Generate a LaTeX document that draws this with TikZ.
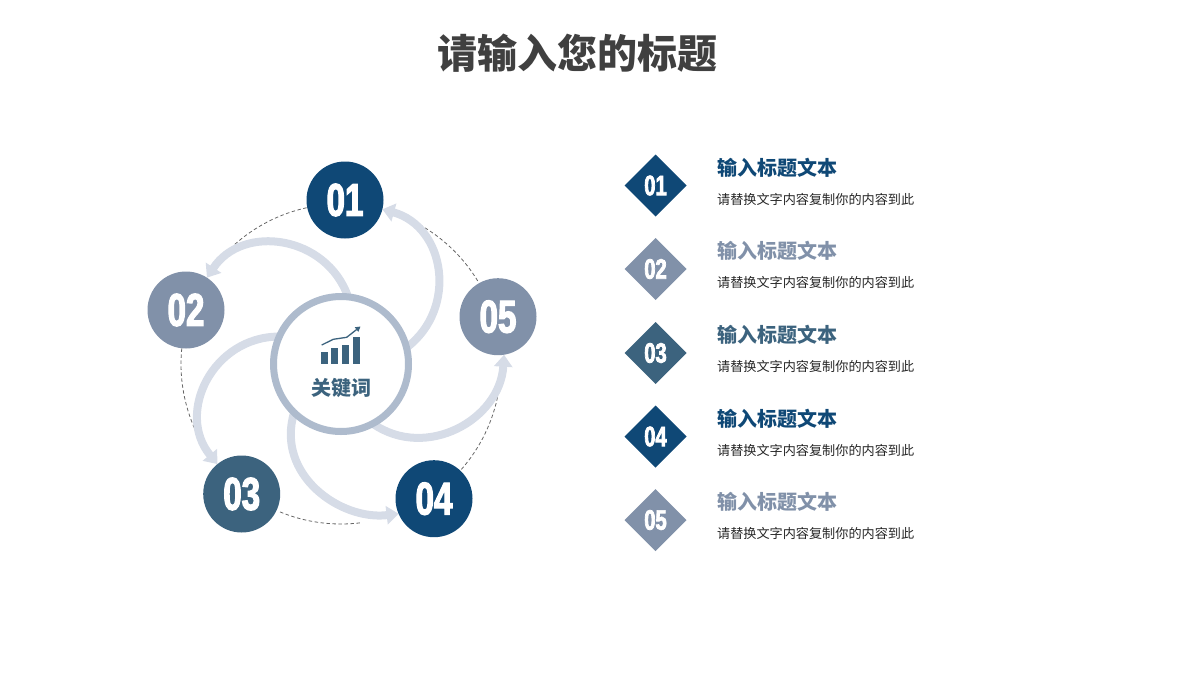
\documentclass[tikz,border=0pt]{standalone}
\usepackage{fontspec}
\usetikzlibrary{shapes.geometric,arrows.meta,backgrounds}
\newfontfamily\cjk{Noto Sans CJK SC}
\newfontfamily\imp[FakeStretch=0.72,FakeBold=2.6]{Liberation Sans}
\definecolor{cdark}{HTML}{0F4876}
\definecolor{cgrey}{HTML}{8191A9}
\definecolor{cteal}{HTML}{3C637E}
\definecolor{cring}{HTML}{AEBBCD}
\definecolor{carrow}{HTML}{D6DCE7}
\definecolor{ctitle}{HTML}{404040}
\definecolor{cbody}{HTML}{262626}
\tikzset{
  numcircle/.style={circle,minimum size=77pt,inner sep=0pt,outer sep=0pt,text=white,font=\imp\bfseries\fontsize{46}{46}\selectfont},
  numdiamond/.style={diamond,aspect=1,minimum size=62pt,inner sep=0pt,outer sep=0pt,text=white,font=\imp\bfseries\fontsize{28}{28}\selectfont},
  headtext/.style={anchor=west,inner sep=0pt,font=\cjk\bfseries\fontsize{20}{20}\selectfont},
  bodytext/.style={anchor=west,inner sep=0pt,text=cbody,font=\cjk\fontsize{13.13}{14}\selectfont},
  sweep/.style={draw=carrow,line width=8pt,-{Triangle[width=18pt,length=12pt]}},
  guide/.style={draw=black!60,line width=0.8pt,dash pattern=on 3.5pt off 2.5pt},
}
\begin{document}
\begin{tikzpicture}[x=1pt,y=-1pt]
\useasboundingbox (0,0) rectangle (1200,675);
\node[font=\cjk\bfseries\fontsize{40}{40}\selectfont,text=ctitle,inner sep=0pt] (title) at (577,53) {请输入您的标题};

\node[circle,draw=cring,line width=7pt,fill=white,minimum size=135pt,inner sep=0pt,outer sep=0pt] (hub) at (341,364) {};
\node[numcircle,fill=cdark] (n1) at (345,200) {01};
\node[numcircle,fill=cgrey] (n2) at (186,310) {02};
\node[numcircle,fill=cteal] (n3) at (241.7,494) {03};
\node[numcircle,fill=cdark] (n4) at (434,498.7) {04};
\node[numcircle,fill=cgrey] (n5) at (498,316.7) {05};
\node[font=\cjk\bfseries\fontsize{20}{20}\selectfont,text=cteal,inner sep=0pt] (hubtext) at (341,388) {关键词};

\begin{scope}[on background layer]
  \draw[guide] (hub.center) ++(257.6:160) arc[start angle=257.6,end angle=227.9,radius=160];
  \draw[guide] (hub.center) ++(185.6:160) arc[start angle=185.6,end angle=155.4,radius=160];
  \draw[guide] (hub.center) ++(112.4:160) arc[start angle=112.4,end angle=83.1,radius=160];
  \draw[guide] (hub.center) ++(41.2:160) arc[start angle=41.2,end angle=10.6,radius=160];
  \draw[guide] (hub.center) ++(-31.3:160) arc[start angle=-31.3,end angle=-60.9,radius=160];
  \draw[sweep] (hub.84) .. controls +(-21.5,-61.5) and +(35.8,-54.4) .. (n2.57);
  \draw[sweep] (hub.14) .. controls +(51.9,-39.3) and +(62.8,17.2) .. (n1.346);
  \draw[sweep] (hub.298) .. controls +(53.4,37.2) and +(-4,65) .. (n5.279);
  \draw[sweep] (hub.226) .. controls +(-18.8,62.3) and +(-58,7) .. (n4.203);
  \draw[sweep] (hub.156) .. controls +(-66.4,0) and +(-42.3,-51.1) .. (n3.129);
\end{scope}

% chart icon
\fill[cteal] (320.7,351.7) rectangle (328,364.3);
\fill[cteal] (331,347.7) rectangle (338.3,364.3);
\fill[cteal] (342,345) rectangle (349.3,364.3);
\fill[cteal] (352.7,336.7) rectangle (360,364.3);
\draw[cteal,line width=1.3pt,-{Triangle[width=5.5pt,length=5pt]}] (321.7,345) -- (333.3,339.3) -- (346.7,337.3) -- (360.5,326.5);

\node[numdiamond,fill=cdark] (d1) at (655.5,185.5) {01};
\node[numdiamond,fill=cgrey] (d2) at (655.5,269) {02};
\node[numdiamond,fill=cteal] (d3) at (655.5,353) {03};
\node[numdiamond,fill=cdark] (d4) at (655.5,436.5) {04};
\node[numdiamond,fill=cgrey] (d5) at (655.5,520) {05};

\node[headtext,text=cdark] (h1) at (717,168) {输入标题文本};
\node[headtext,text=cgrey] (h2) at (717,251) {输入标题文本};
\node[headtext,text=cteal] (h3) at (717,335) {输入标题文本};
\node[headtext,text=cdark] (h4) at (717,419) {输入标题文本};
\node[headtext,text=cgrey] (h5) at (717,502) {输入标题文本};

\node[bodytext] (b1) at (717,199) {请替换文字内容复制你的内容到此};
\node[bodytext] (b2) at (717,282) {请替换文字内容复制你的内容到此};
\node[bodytext] (b3) at (717,366) {请替换文字内容复制你的内容到此};
\node[bodytext] (b4) at (717,450) {请替换文字内容复制你的内容到此};
\node[bodytext] (b5) at (717,533) {请替换文字内容复制你的内容到此};
\end{tikzpicture}
\end{document}
